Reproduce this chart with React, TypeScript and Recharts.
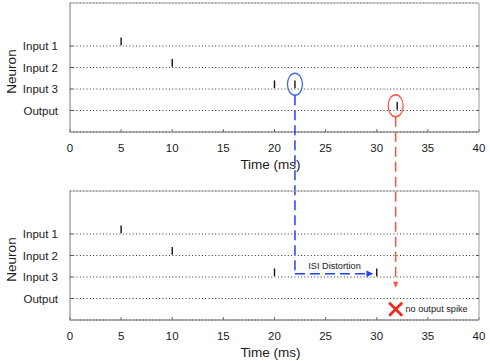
import React from 'react';
import {
  ScatterChart,
  Scatter,
  XAxis,
  YAxis,
  CartesianGrid,
  ReferenceLine,
  ReferenceDot,
} from 'recharts';

// ---------------- data ----------------
const neuronLabels = ['Output', 'Input 3', 'Input 2', 'Input 1'];
const neuronRows = [1, 2, 3, 4];
const timeTicks = [0, 5, 10, 15, 20, 25, 30, 35, 40];

const originalTimes = [5, 10, 20, 22, 32];
const originalNeurons = ['Input 1', 'Input 2', 'Input 3', 'Input 3', 'Output'];

const distortedTimes = [5, 10, 20, 30];
const distortedNeurons = ['Input 1', 'Input 2', 'Input 3', 'Input 3'];

const shiftedFrom = 22;
const shiftedTo = 30;
const shiftedNeuron = 'Input 3';
const missingTime = 31.85;
const missingNeuron = 'Output';
const isiText = 'ISI Distortion';
const missingText = 'no output spike';

// ---------------- layout / style ----------------
const W = 490;
const H = 361;
const FONT = '"Liberation Sans", Arial, Helvetica, sans-serif';
const P1_TOP = 3;
const P1_BOTTOM = 132;
const P2_TOP = 191;
const P2_BOTTOM = 320;
const TOP_AXIS_H = 3;
const BOTTOM_AXIS_H = 40;
const ROW_PX = (P1_BOTTOM - P1_TOP) / 6;
const SHIFT = (P2_TOP - P1_TOP) / ROW_PX; // top-panel rows expressed in bottom-panel units
const MARK_LIFT = 0.22; // ellipse centre above row line (rows)
const ELL_RX = 7.5;
const ELL_RY = 11;
const BLUE = '#1f45f0';
const BLUE_LIGHT = '#3b6cf5';
const RED = '#ff5140';
const RED_X = '#f02a1e';

const rowOf = (name: string) => neuronRows[neuronLabels.indexOf(name)];

const build = (times: number[], names: string[]) =>
  times.map((t, i) => ({ t, row: rowOf(names[i]) }));

const originalData = build(originalTimes, originalNeurons);
const distortedData = build(distortedTimes, distortedNeurons);

const Spike = (p: any) => (
  <line
    x1={p.cx}
    x2={p.cx}
    y1={p.cy - 0.8}
    y2={p.cy - 8.6}
    stroke="#111"
    strokeWidth={1.4}
  />
);

const NeuronLabel = (p: any) => {
  const vb = p.viewBox || { y: 0, height: 0 };
  const cx = 11;
  const cy = vb.y + vb.height / 2 + 4;
  return (
    <text
      x={cx}
      y={cy}
      transform={`rotate(-90 ${cx} ${cy})`}
      textAnchor="middle"
      dominantBaseline="central"
      fontSize={13.5}
      fontFamily={FONT}
      fill="#1a1a1a"
    >
      Neuron
    </text>
  );
};

const TimeLabel = (p: any) => {
  const vb = p.viewBox || { x: 0, y: 0, width: 0 };
  return (
    <text
      x={vb.x + vb.width / 2 - 4}
      y={vb.y + 36.5}
      textAnchor="middle"
      fontSize={13.5}
      fontFamily={FONT}
      fill="#1a1a1a"
    >
      Time (ms)
    </text>
  );
};

const makeEllipse = (color: string) => (p: any) => (
  <ellipse cx={p.cx} cy={p.cy} rx={ELL_RX} ry={ELL_RY} fill="none" stroke={color} strokeWidth={1.3} />
);

const makeArrow = (color: string, hl: number, hw: number) => (p: any) => {
  const { x1, y1, x2, y2 } = p;
  const dx = x2 - x1;
  const dy = y2 - y1;
  const len = Math.hypot(dx, dy) || 1;
  const ux = dx / len;
  const uy = dy / len;
  const bx = x2 - ux * hl;
  const by = y2 - uy * hl;
  return (
    <g>
      <line x1={x1} y1={y1} x2={bx} y2={by} stroke={color} strokeWidth={1.5} strokeDasharray="10 5" />
      <polygon
        points={`${x2},${y2} ${bx - uy * hw},${by + ux * hw} ${bx + uy * hw},${by - ux * hw}`}
        fill={color}
      />
    </g>
  );
};

const makeText = (txt: string) => (p: any) => (
  <text x={p.cx} y={p.cy} dominantBaseline="central" fontSize={9.2} fontFamily={FONT} fill="#1a1a1a">
    {txt}
  </text>
);

const XMark = (p: any) => (
  <g stroke={RED_X} strokeWidth={2.8} strokeLinecap="butt">
    <line x1={p.cx - 6.5} y1={p.cy - 6.5} x2={p.cx + 6.5} y2={p.cy + 6.5} />
    <line x1={p.cx - 6.5} y1={p.cy + 6.5} x2={p.cx + 6.5} y2={p.cy - 6.5} />
  </g>
);

function Panel({ data, top, bottom, extra }: { data: any[]; top: number; bottom: number; extra: any }) {
  return (
    <div style={{ position: 'absolute', left: 0, top: 0 }}>
      <ScatterChart
        width={W}
        height={H}
        margin={{ top: top - TOP_AXIS_H, right: 0, bottom: H - bottom - BOTTOM_AXIS_H, left: 0 }}
      >
        <CartesianGrid horizontal vertical={false} stroke="#333" strokeDasharray="1 2.3" />
        <XAxis
          type="number"
          dataKey="t"
          domain={[0, 40]}
          ticks={timeTicks}
          interval={0}
          height={BOTTOM_AXIS_H}
          tickSize={-3}
          tickMargin={15}
          allowDataOverflow
          axisLine={{ stroke: '#6f6f6f' }}
          tickLine={{ stroke: '#6f6f6f' }}
          tick={{ fill: '#1a1a1a', fontSize: 11.5, fontFamily: FONT }}
          label={TimeLabel}
        />
        <XAxis
          xAxisId="top"
          orientation="top"
          type="number"
          domain={[0, 40]}
          ticks={timeTicks}
          interval={0}
          height={TOP_AXIS_H}
          tickSize={-3}
          allowDataOverflow
          tickFormatter={() => ''}
          axisLine={{ stroke: '#aaaaaa' }}
          tickLine={{ stroke: '#999999' }}
        />
        <YAxis
          type="number"
          dataKey="row"
          domain={[0, 6]}
          ticks={neuronRows}
          interval={0}
          width={70}
          tickSize={-3}
          tickMargin={15}
          allowDataOverflow
          tickFormatter={(v: number) => neuronLabels[neuronRows.indexOf(v)] || ''}
          axisLine={{ stroke: '#7a7a7a' }}
          tickLine={{ stroke: '#555' }}
          tick={{ fill: '#1a1a1a', fontSize: 11.5, fontFamily: FONT }}
          label={NeuronLabel}
        />
        <YAxis
          yAxisId="right"
          orientation="right"
          type="number"
          domain={[0, 6]}
          ticks={neuronRows}
          interval={0}
          width={11}
          tickSize={-3}
          allowDataOverflow
          tickFormatter={() => ''}
          axisLine={{ stroke: '#999999' }}
          tickLine={{ stroke: '#555' }}
        />
        <Scatter data={data} shape={Spike} isAnimationActive={false} />
        {extra}
      </ScatterChart>
    </div>
  );
}

export default function App() {
  const topExtra = [
    <ReferenceDot
      key="e1"
      x={shiftedFrom}
      y={rowOf(shiftedNeuron) + MARK_LIFT}
      ifOverflow="visible"
      shape={makeEllipse(BLUE_LIGHT)}
    />,
    <ReferenceDot
      key="e2"
      x={missingTime}
      y={rowOf(missingNeuron) + MARK_LIFT}
      ifOverflow="visible"
      shape={makeEllipse(RED)}
    />,
  ];
  const ellipseBottom = MARK_LIFT - ELL_RY / ROW_PX;
  const isiY = rowOf(shiftedNeuron) + 0.15;
  const bottomExtra = [
    <ReferenceLine
      key="bv"
      segment={[
        { x: shiftedFrom, y: rowOf(shiftedNeuron) + ellipseBottom + SHIFT },
        { x: shiftedFrom, y: isiY },
      ]}
      ifOverflow="visible"
      stroke={BLUE}
      strokeWidth={1.5}
      strokeDasharray="10 5"
    />,
    <ReferenceLine
      key="bh"
      segment={[
        { x: shiftedFrom, y: isiY },
        { x: shiftedTo - 0.33, y: isiY },
      ]}
      ifOverflow="visible"
      shape={makeArrow(BLUE, 7, 3.2)}
    />,
    <ReferenceLine
      key="rv"
      segment={[
        { x: missingTime, y: rowOf(missingNeuron) + ellipseBottom + SHIFT },
        { x: missingTime, y: rowOf(missingNeuron) + 0.5 },
      ]}
      ifOverflow="visible"
      shape={makeArrow(RED, 6, 2.6)}
    />,
    <ReferenceDot key="t1" x={23.3} y={rowOf(shiftedNeuron) + 0.5} ifOverflow="visible" shape={makeText(isiText)} />,
    <ReferenceDot key="xm" x={missingTime} y={rowOf(missingNeuron) - 0.5} ifOverflow="visible" shape={XMark} />,
    <ReferenceDot key="t2" x={32.8} y={rowOf(missingNeuron) - 0.5} ifOverflow="visible" shape={makeText(missingText)} />,
  ];
  return (
    <div style={{ position: 'absolute', left: 0, top: 0, width: W, height: H, background: '#fff' }}>
      <Panel data={originalData} top={P1_TOP} bottom={P1_BOTTOM} extra={topExtra} />
      <Panel data={distortedData} top={P2_TOP} bottom={P2_BOTTOM} extra={bottomExtra} />
    </div>
  );
}
